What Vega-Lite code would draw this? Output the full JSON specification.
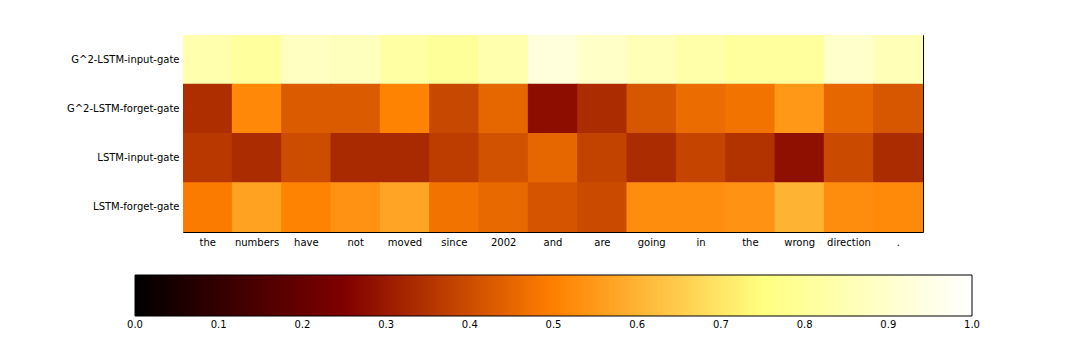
{
  "$schema": "https://vega.github.io/schema/vega-lite/v6.json",
  "width": 740,
  "height": 197,
  "autosize": {"type": "none"},
  "padding": {"left": 183, "top": 35, "right": 157, "bottom": 120},
  "background": "white",
  "config": {
    "font": "DejaVu Sans",
    "view": {"stroke": "black", "strokeWidth": 1}
  },
  "data": {
    "values": [
      {"pos": 0, "word": "the", "gate": "G^2-LSTM-input-gate", "value": 0.84},
      {"pos": 1, "word": "numbers", "gate": "G^2-LSTM-input-gate", "value": 0.81},
      {"pos": 2, "word": "have", "gate": "G^2-LSTM-input-gate", "value": 0.88},
      {"pos": 3, "word": "not", "gate": "G^2-LSTM-input-gate", "value": 0.87},
      {"pos": 4, "word": "moved", "gate": "G^2-LSTM-input-gate", "value": 0.82},
      {"pos": 5, "word": "since", "gate": "G^2-LSTM-input-gate", "value": 0.8},
      {"pos": 6, "word": "2002", "gate": "G^2-LSTM-input-gate", "value": 0.84},
      {"pos": 7, "word": "and", "gate": "G^2-LSTM-input-gate", "value": 0.93},
      {"pos": 8, "word": "are", "gate": "G^2-LSTM-input-gate", "value": 0.89},
      {"pos": 9, "word": "going", "gate": "G^2-LSTM-input-gate", "value": 0.86},
      {"pos": 10, "word": "in", "gate": "G^2-LSTM-input-gate", "value": 0.83},
      {"pos": 11, "word": "the", "gate": "G^2-LSTM-input-gate", "value": 0.81},
      {"pos": 12, "word": "wrong", "gate": "G^2-LSTM-input-gate", "value": 0.81},
      {"pos": 13, "word": "direction", "gate": "G^2-LSTM-input-gate", "value": 0.9},
      {"pos": 14, "word": ".", "gate": "G^2-LSTM-input-gate", "value": 0.86},

      {"pos": 0, "word": "the", "gate": "G^2-LSTM-forget-gate", "value": 0.34},
      {"pos": 1, "word": "numbers", "gate": "G^2-LSTM-forget-gate", "value": 0.515},
      {"pos": 2, "word": "have", "gate": "G^2-LSTM-forget-gate", "value": 0.43},
      {"pos": 3, "word": "not", "gate": "G^2-LSTM-forget-gate", "value": 0.43},
      {"pos": 4, "word": "moved", "gate": "G^2-LSTM-forget-gate", "value": 0.505},
      {"pos": 5, "word": "since", "gate": "G^2-LSTM-forget-gate", "value": 0.39},
      {"pos": 6, "word": "2002", "gate": "G^2-LSTM-forget-gate", "value": 0.45},
      {"pos": 7, "word": "and", "gate": "G^2-LSTM-forget-gate", "value": 0.275},
      {"pos": 8, "word": "are", "gate": "G^2-LSTM-forget-gate", "value": 0.335},
      {"pos": 9, "word": "going", "gate": "G^2-LSTM-forget-gate", "value": 0.42},
      {"pos": 10, "word": "in", "gate": "G^2-LSTM-forget-gate", "value": 0.46},
      {"pos": 11, "word": "the", "gate": "G^2-LSTM-forget-gate", "value": 0.475},
      {"pos": 12, "word": "wrong", "gate": "G^2-LSTM-forget-gate", "value": 0.545},
      {"pos": 13, "word": "direction", "gate": "G^2-LSTM-forget-gate", "value": 0.45},
      {"pos": 14, "word": ".", "gate": "G^2-LSTM-forget-gate", "value": 0.42},

      {"pos": 0, "word": "the", "gate": "LSTM-input-gate", "value": 0.36},
      {"pos": 1, "word": "numbers", "gate": "LSTM-input-gate", "value": 0.335},
      {"pos": 2, "word": "have", "gate": "LSTM-input-gate", "value": 0.4},
      {"pos": 3, "word": "not", "gate": "LSTM-input-gate", "value": 0.33},
      {"pos": 4, "word": "moved", "gate": "LSTM-input-gate", "value": 0.33},
      {"pos": 5, "word": "since", "gate": "LSTM-input-gate", "value": 0.37},
      {"pos": 6, "word": "2002", "gate": "LSTM-input-gate", "value": 0.41},
      {"pos": 7, "word": "and", "gate": "LSTM-input-gate", "value": 0.45},
      {"pos": 8, "word": "are", "gate": "LSTM-input-gate", "value": 0.38},
      {"pos": 9, "word": "going", "gate": "LSTM-input-gate", "value": 0.335},
      {"pos": 10, "word": "in", "gate": "LSTM-input-gate", "value": 0.385},
      {"pos": 11, "word": "the", "gate": "LSTM-input-gate", "value": 0.35},
      {"pos": 12, "word": "wrong", "gate": "LSTM-input-gate", "value": 0.28},
      {"pos": 13, "word": "direction", "gate": "LSTM-input-gate", "value": 0.395},
      {"pos": 14, "word": ".", "gate": "LSTM-input-gate", "value": 0.335},

      {"pos": 0, "word": "the", "gate": "LSTM-forget-gate", "value": 0.49},
      {"pos": 1, "word": "numbers", "gate": "LSTM-forget-gate", "value": 0.565},
      {"pos": 2, "word": "have", "gate": "LSTM-forget-gate", "value": 0.505},
      {"pos": 3, "word": "not", "gate": "LSTM-forget-gate", "value": 0.535},
      {"pos": 4, "word": "moved", "gate": "LSTM-forget-gate", "value": 0.57},
      {"pos": 5, "word": "since", "gate": "LSTM-forget-gate", "value": 0.475},
      {"pos": 6, "word": "2002", "gate": "LSTM-forget-gate", "value": 0.455},
      {"pos": 7, "word": "and", "gate": "LSTM-forget-gate", "value": 0.415},
      {"pos": 8, "word": "are", "gate": "LSTM-forget-gate", "value": 0.395},
      {"pos": 9, "word": "going", "gate": "LSTM-forget-gate", "value": 0.525},
      {"pos": 10, "word": "in", "gate": "LSTM-forget-gate", "value": 0.525},
      {"pos": 11, "word": "the", "gate": "LSTM-forget-gate", "value": 0.535},
      {"pos": 12, "word": "wrong", "gate": "LSTM-forget-gate", "value": 0.6},
      {"pos": 13, "word": "direction", "gate": "LSTM-forget-gate", "value": 0.525},
      {"pos": 14, "word": ".", "gate": "LSTM-forget-gate", "value": 0.52}
    ]
  },
  "mark": {"type": "rect", "width": {"band": 1.02}, "height": {"band": 1.02}, "clip": true},
  "encoding": {
    "x": {
      "field": "pos",
      "type": "ordinal",
      "scale": {"paddingInner": 0, "paddingOuter": 0},
      "axis": {
        "title": null,
        "labelAngle": 0,
        "labelExpr": "['the','numbers','have','not','moved','since','2002','and','are','going','in','the','wrong','direction','.'][datum.value]",
        "labelFontSize": 10,
        "labelColor": "black",
        "labelPadding": 5,
        "domain": false,
        "ticks": false
      }
    },
    "y": {
      "field": "gate",
      "type": "nominal",
      "sort": ["G^2-LSTM-input-gate", "G^2-LSTM-forget-gate", "LSTM-input-gate", "LSTM-forget-gate"],
      "scale": {"paddingInner": 0, "paddingOuter": 0},
      "axis": {
        "title": null,
        "labelFontSize": 10,
        "labelColor": "black",
        "labelPadding": 4,
        "domain": false,
        "ticks": false
      }
    },
    "color": {
      "field": "value",
      "type": "quantitative",
      "scale": {
        "domain": [0, 0.25, 0.5, 0.75, 1],
        "range": ["#000000", "#800000", "#ff8000", "#ffff80", "#ffffff"],
        "interpolate": "rgb"
      },
      "legend": {
        "type": "gradient",
        "title": null,
        "orient": "none",
        "legendX": -48,
        "legendY": 240,
        "direction": "horizontal",
        "gradientLength": 837,
        "gradientThickness": 41,
        "gradientStrokeColor": "black",
        "gradientStrokeWidth": 1,
        "values": [0, 0.1, 0.2, 0.3, 0.4, 0.5, 0.6, 0.7, 0.8, 0.9, 1.0],
        "format": ".1f",
        "labelFontSize": 10,
        "labelColor": "black",
        "labelOffset": 4,
        "labelOverlap": false,
        "encode": {
          "labels": {
            "update": {"align": {"value": "center"}}
          }
        }
      }
    }
  }
}
